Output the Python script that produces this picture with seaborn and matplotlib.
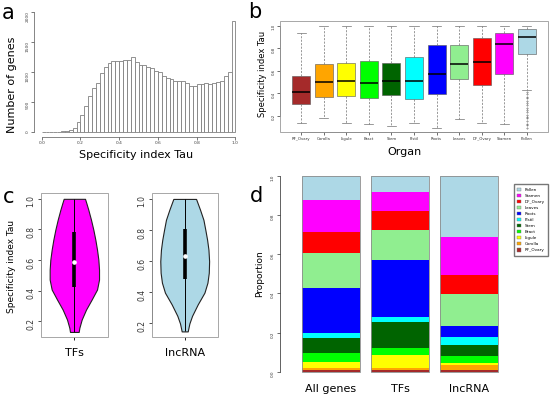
import numpy as np
import pandas as pd
import matplotlib
matplotlib.use('Agg')
import matplotlib.pyplot as plt
from matplotlib.patches import Patch, Rectangle
import seaborn as sns

# ---------------- data ----------------
# a: genome wide distribution of tau, bins of 0.02 from 0 to 1
bin_width = 0.02
gene_counts = [0, 0, 0, 0, 3, 6, 12, 25, 60, 170,
               286, 434, 593, 731, 813, 983, 1077, 1159, 1176, 1181,
               1192, 1209, 1203, 1258, 1165, 1121, 1115, 1082, 1060, 1016,
               1005, 934, 896, 885, 846, 852, 841, 813, 764, 764,
               797, 791, 808, 791, 819, 835, 857, 934, 1000, 1846]

# b: tau per organ (box summaries)
organs = ['RF_Ovary', 'Corolla', 'Ligule', 'Bract', 'Stem', 'Pistil',
          'Roots', 'Leaves', 'DF_Ovary', 'Stamen', 'Pollen']
organ_colors = ['brown', 'orange', 'yellow', '#00FF00', 'darkgreen', 'cyan',
                'blue', 'lightgreen', 'red', 'magenta', 'lightblue']
box_q1 = [0.307, 0.366, 0.378, 0.355, 0.387, 0.346, 0.396, 0.526, 0.476, 0.568, 0.751]
box_med = [0.408, 0.500, 0.508, 0.488, 0.508, 0.508, 0.571, 0.660, 0.680, 0.835, 0.900]
box_q3 = [0.556, 0.660, 0.671, 0.689, 0.671, 0.719, 0.831, 0.831, 0.891, 0.932, 0.971]
box_lo = [0.135, 0.177, 0.135, 0.123, 0.106, 0.135, 0.088, 0.168, 0.135, 0.123, 0.428]
box_hi = [0.932, 1.0, 1.0, 1.0, 1.0, 1.0, 1.0, 1.0, 1.0, 1.0, 1.0]
pollen_fliers = [0.41, 0.395, 0.37, 0.355, 0.33, 0.31, 0.295, 0.27, 0.25,
                 0.235, 0.21, 0.19, 0.175, 0.15, 0.13, 0.115, 0.093]

# c: violin outlines (tau, relative half width) and inner box
tf_tau = [0.131, 0.158, 0.212, 0.277, 0.343, 0.408, 0.473, 0.538, 0.603,
          0.668, 0.733, 0.798, 0.863, 0.928, 0.972, 1.0]
tf_dens = [13, 15, 22, 35, 52, 68, 74, 74, 72, 68, 63, 57, 50, 42, 36, 32]
tf_q1, tf_med, tf_q3 = 0.425, 0.585, 0.783
lnc_tau = [0.149, 0.2, 0.249, 0.323, 0.398, 0.462, 0.526, 0.6, 0.674,
           0.738, 0.798, 0.866, 0.93, 1.0]
lnc_dens = [9, 14, 22, 39, 59, 68, 72, 73, 71, 67, 62, 56, 46, 34]
lnc_q1, lnc_med, lnc_q3 = 0.483, 0.632, 0.809

# d: proportion of genes by organ of maximal expression
groups = ['All genes', 'TFs', 'lncRNA']
prop_all = [0.010, 0.009, 0.033, 0.046, 0.076, 0.026, 0.229, 0.175, 0.108, 0.166, 0.122]
prop_tfs = [0.012, 0.010, 0.066, 0.032, 0.134, 0.026, 0.290, 0.152, 0.099, 0.095, 0.084]
prop_lnc = [0.009, 0.025, 0.013, 0.036, 0.054, 0.043, 0.056, 0.162, 0.097, 0.192, 0.313]

# ---------------- figure ----------------
W, H = 553, 399
fig = plt.figure(figsize=(W / 100, H / 100), dpi=100)
fig.patch.set_facecolor('white')
dark = '#222222'
frame_col = '#999999'


def add_ax(l, t, r, b):
    return fig.add_axes([l / W, 1 - b / H, (r - l) / W, (b - t) / H])


def ftext(x, y, s, **kw):
    fig.text(x / W, 1 - y / H, s, **kw)


def r_frame(ax):
    ax.add_patch(Rectangle((0, 0), 1, 1, transform=ax.transAxes, fill=False,
                           edgecolor=frame_col, linewidth=0.6, clip_on=False, zorder=5))


# ---- a: histogram ----
ax_a = add_ax(34, 7.5, 243.2, 136.5)
n_bins = len(gene_counts)
hist_df = pd.DataFrame({'tau': (np.arange(n_bins) + 0.5) * bin_width, 'n': gene_counts})
sns.histplot(data=hist_df, x='tau', weights='n', bins=n_bins, binrange=(0, 1),
             color='white', edgecolor='#808080', linewidth=0.6, alpha=1, ax=ax_a)
ax_a.set_xlim(-0.04, 1.04)
ax_a.set_ylim(-80, 2080)
ax_a.set_xlabel('')
ax_a.set_ylabel('')
ax_a.set_xticks([0, 0.2, 0.4, 0.6, 0.8, 1.0])
ax_a.set_xticklabels(['0.0', '0.2', '0.4', '0.6', '0.8', '1.0'])
ax_a.set_yticks([0, 500, 1000, 1500, 2000])
for s in ['top', 'right']:
    ax_a.spines[s].set_visible(False)
ax_a.spines['left'].set_bounds(0, 2000)
ax_a.spines['bottom'].set_bounds(0, 1)
for s in ['left', 'bottom']:
    ax_a.spines[s].set_color('#555555')
    ax_a.spines[s].set_linewidth(0.5)
ax_a.tick_params(labelsize=3.2, length=2.4, width=0.5, pad=1, colors='#444444')
ax_a.tick_params(axis='y', labelrotation=90)
ftext(136.3, 154.5, 'Specificity index Tau', fontsize=8, ha='center', va='center')
ftext(11.7, 85.3, 'Number of genes', fontsize=8, ha='center', va='center', rotation=90)

# ---- b: boxplots per organ ----
ax_b = add_ax(280, 21, 548, 132)
stats = []
for i, name in enumerate(organs):
    stats.append(dict(label=name, q1=box_q1[i], med=box_med[i], q3=box_q3[i],
                      whislo=box_lo[i], whishi=box_hi[i],
                      fliers=pollen_fliers if name == 'Pollen' else []))
bp = ax_b.bxp(stats, positions=range(1, len(organs) + 1), widths=0.8,
              patch_artist=True, capwidths=0.4,
              boxprops=dict(edgecolor='#555555', linewidth=0.4),
              medianprops=dict(color='black', linewidth=1.1),
              whiskerprops=dict(color='#707070', linestyle=(0, (3, 2)), linewidth=0.5),
              capprops=dict(color='#707070', linewidth=0.5),
              flierprops=dict(marker='o', markersize=0.9, markerfacecolor='none',
                              markeredgecolor='#333333', markeredgewidth=0.3))
for patch, c in zip(bp['boxes'], organ_colors):
    patch.set_facecolor(c)
ax_b.set_xlim(0.06, 11.94)
ax_b.set_ylim(0.055, 1.04)
ax_b.set_yticks([0.2, 0.4, 0.6, 0.8, 1.0])
ax_b.set_yticklabels(['0.2', '0.4', '0.6', '0.8', '1.0'])
ax_b.set_xticks(range(1, len(organs) + 1))
ax_b.set_xticklabels(organs)
for s in ['top', 'right']:
    ax_b.spines[s].set_visible(False)
ax_b.spines['left'].set_bounds(0.2, 1.0)
ax_b.spines['bottom'].set_bounds(1, 11)
for s in ['left', 'bottom']:
    ax_b.spines[s].set_color(dark)
    ax_b.spines[s].set_linewidth(0.5)
r_frame(ax_b)
ax_b.tick_params(labelsize=2.8, length=2, width=0.5, pad=1.5, colors='#333333')
ax_b.tick_params(axis='y', labelrotation=90, pad=1)
ftext(405, 151.7, 'Organ', fontsize=8, ha='center', va='center')
ftext(262.5, 73.5, 'Specificity index Tau', fontsize=6, ha='center', va='center', rotation=90)


# ---- c: violins ----
def draw_violin(ax, tau, dens, q1, med, q3, color, ylim):
    st = dict(coords=np.array(tau), vals=np.array(dens, dtype=float),
              mean=med, median=med, min=tau[0], max=tau[-1])
    parts = ax.violin([st], positions=[1], widths=0.74, showmeans=False,
                      showextrema=False, showmedians=False)
    for body in parts['bodies']:
        body.set_facecolor(color)
        body.set_edgecolor(dark)
        body.set_linewidth(0.8)
        body.set_alpha(1)
    ax.vlines(1, tau[0], tau[-1], color='black', linewidth=0.7, zorder=3)
    ax.vlines(1, q1, q3, color='black', linewidth=2.6, zorder=3)
    ax.plot([1], [med], 'o', color='white', markersize=2.3, zorder=4)
    ax.set_xlim(0.5, 1.5)
    ax.set_ylim(*ylim)
    ax.set_yticks([0.2, 0.4, 0.6, 0.8, 1.0])
    ax.set_yticklabels(['0.2', '0.4', '0.6', '0.8', '1.0'])
    ax.set_xticks([1])
    for s in ['top', 'right', 'bottom']:
        ax.spines[s].set_visible(False)
    ax.spines['left'].set_bounds(0.2, 1.0)
    ax.spines['left'].set_color(dark)
    ax.spines['left'].set_linewidth(0.6)
    r_frame(ax)
    ax.tick_params(axis='y', labelsize=5.5, length=2.4, width=0.6, pad=1.5,
                   labelrotation=90, colors='#333333')
    ax.tick_params(axis='x', labelsize=8, length=2.4, width=0.6, pad=6)


ax_c1 = add_ax(41, 192.7, 107.7, 336.7)
draw_violin(ax_c1, tf_tau, tf_dens, tf_q1, tf_med, tf_q3, 'magenta', (0.10, 1.04))
ax_c1.set_xticklabels(['TFs'])
ax_c2 = add_ax(151.7, 192.7, 217.7, 336.7)
draw_violin(ax_c2, lnc_tau, lnc_dens, lnc_q1, lnc_med, lnc_q3, 'lightblue', (0.115, 1.04))
ax_c2.set_xticklabels(['lncRNA'])
ftext(12, 266, 'Specificity index Tau', fontsize=6.5, ha='center', va='center', rotation=90)

# ---- d: stacked proportions ----
ax_d = add_ax(280, 167.8, 553, 379.9)
props = pd.DataFrame({'All genes': prop_all, 'TFs': prop_tfs, 'lncRNA': prop_lnc},
                     index=organs)
cum = props.cumsum()
for organ, c in zip(reversed(organs), reversed(organ_colors)):
    sns.barplot(x=groups, y=cum.loc[organ].values, color=c, saturation=1,
                width=0.84, linewidth=0, errorbar=None, ax=ax_d)
sns.barplot(x=groups, y=cum.loc[organs[-1]].values, color='#8c8c8c', fill=False,
            width=0.84, linewidth=0.6, errorbar=None, ax=ax_d)
ax_d.set_xlim(-0.739, 3.217)
ax_d.set_ylim(-0.04, 1.04)
ax_d.set_xlabel('')
ax_d.set_ylabel('')
ax_d.set_yticks([0, 0.2, 0.4, 0.6, 0.8, 1.0])
ax_d.set_yticklabels(['0.0', '0.2', '0.4', '0.6', '0.8', '1.0'])
for s in ['top', 'right', 'bottom']:
    ax_d.spines[s].set_visible(False)
ax_d.spines['left'].set_bounds(0, 1)
ax_d.spines['left'].set_color(dark)
ax_d.spines['left'].set_linewidth(0.5)
ax_d.tick_params(axis='y', labelsize=3, length=2.4, width=0.5, pad=1.5,
                 labelrotation=90, colors='#333333')
ax_d.tick_params(axis='x', labelsize=8, length=0, pad=3)
ftext(260, 273.3, 'Proportion', fontsize=6.5, ha='center', va='center', rotation=90)

handles = [Patch(facecolor=c, edgecolor='#777777', linewidth=0.3)
           for c in reversed(organ_colors)]
fig.legend(handles, list(reversed(organs)), loc='upper left',
           bbox_to_anchor=(514 / W, 1 - 184.3 / H), fontsize=3, frameon=True,
           fancybox=False, edgecolor='#777777', framealpha=1,
           handlelength=0.9, handleheight=0.9, labelspacing=0.45,
           borderpad=0.8, handletextpad=0.8, borderaxespad=0)

# ---- panel letters ----
ftext(1.5, 19, 'a', fontsize=15, va='baseline')
ftext(248, 18.5, 'b', fontsize=15, va='baseline')
ftext(3, 203, 'c', fontsize=15, va='baseline')
ftext(250, 202, 'd', fontsize=15, va='baseline')

fig.savefig('out.png', dpi=100, facecolor='white')
